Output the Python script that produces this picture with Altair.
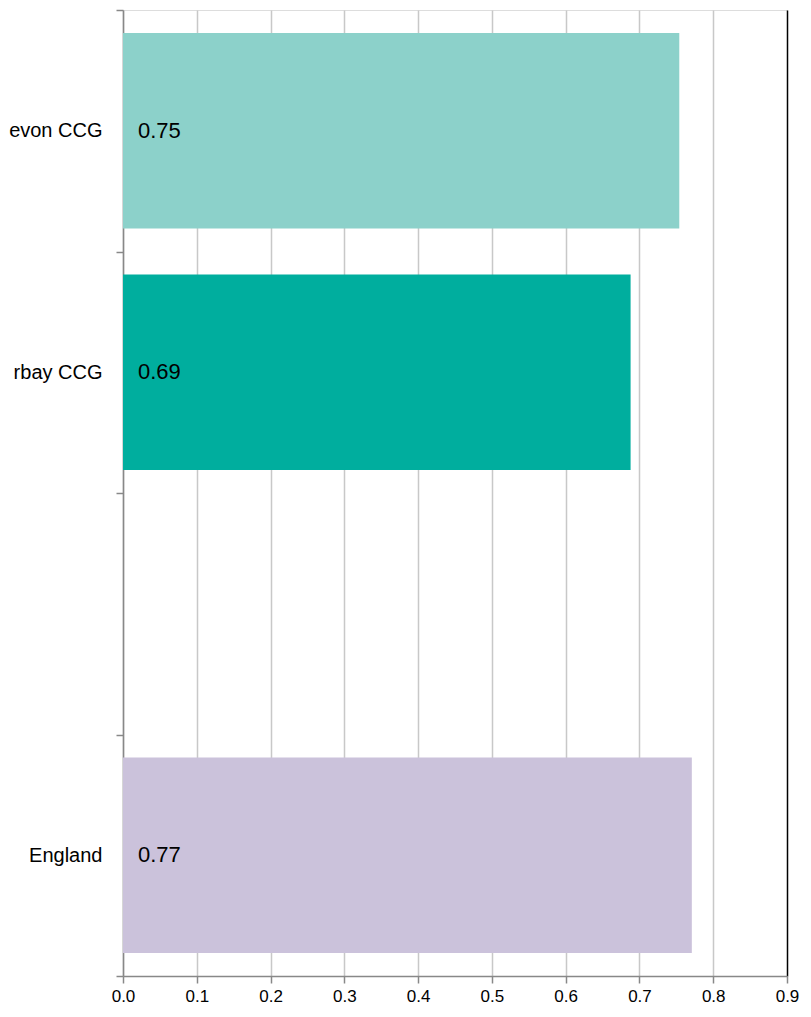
import altair as alt
import pandas as pd

categories = ["evon CCG", "rbay CCG", " ", "England"]
bar_categories = ["evon CCG", "rbay CCG", "England"]
values = [0.754, 0.688, 0.771]
colors = ["#8cd1ca", "#00ae9e", "#cbc2db"]
x_ticks = [0.0, 0.1, 0.2, 0.3, 0.4, 0.5, 0.6, 0.7, 0.8, 0.9]

df = pd.DataFrame({"area": bar_categories, "value": values, "color": colors})

FONT = "Liberation Sans"
y_scale = alt.Scale(domain=categories, paddingInner=0, paddingOuter=0)

y_enc = alt.Y(
    "area:N",
    scale=y_scale,
    axis=alt.Axis(
        title=None,
        tickBand="extent",
        ticks=True,
        tickSize=7,
        tickColor="#888888",
        tickWidth=1.5,
        domainColor="#888888",
        domainWidth=1.5,
        labelFontSize=20,
        labelFont=FONT,
        labelColor="#000000",
        labelPadding=14,
        labelLimit=300,
        grid=False,
    ),
)

x_enc = alt.X(
    "value:Q",
    scale=alt.Scale(domain=[0, 0.9], nice=False, zero=True),
    axis=alt.Axis(
        title=None,
        values=x_ticks,
        format=".1f",
        tickSize=7,
        tickColor="#888888",
        tickWidth=1.5,
        domainColor="#888888",
        domainWidth=1.5,
        labelFontSize=17,
        labelFont=FONT,
        labelColor="#000000",
        labelPadding=5,
        labelFlush=False,
        grid=True,
        gridColor=alt.condition("datum.value >= 0.89", alt.value("#000000"), alt.value("#c8c8c8")),
        gridWidth=1.5,
    ),
)

bars = alt.Chart(df).mark_bar(height={"band": 0.81}).encode(
    y=y_enc,
    x=x_enc,
    color=alt.Color("color:N", scale=None, legend=None),
)

labels = alt.Chart(df).mark_text(
    align="left", baseline="middle", dx=15, fontSize=22, font=FONT, color="#000000"
).encode(
    y=alt.Y("area:N", scale=y_scale),
    x=alt.datum(0),
    text=alt.Text("value:Q", format=".2f"),
)

chart = (
    alt.layer(bars, labels)
    .properties(
        width=664,
        height=966,
        autosize=alt.AutoSizeParams(type="none"),
        padding={"left": 115, "top": 2, "right": 16, "bottom": 28},
    )
    .configure_view(stroke="#000000", strokeWidth=1.5)
    .configure(background="#ffffff")
)

chart.save("out.html", embed_options={"renderer": "svg", "actions": False})
